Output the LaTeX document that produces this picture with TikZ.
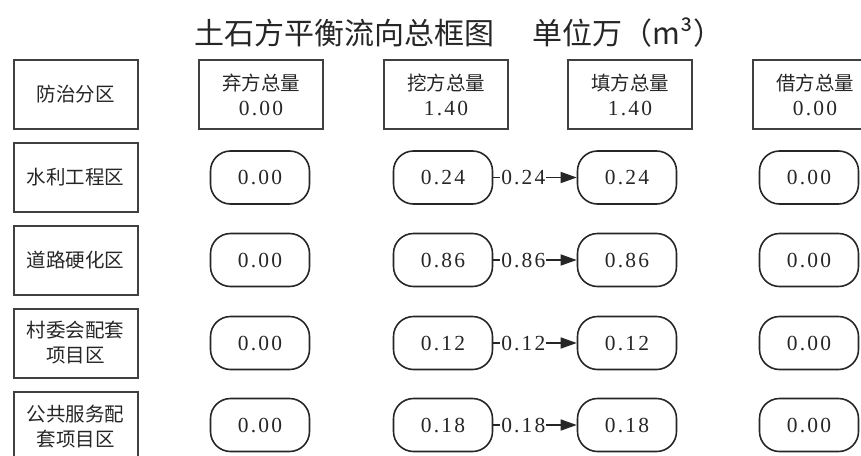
\documentclass[tikz,border=0pt]{standalone}
\usepackage{fontspec}
\newfontfamily\cjk{Noto Sans CJK SC}
\newfontfamily\num{Liberation Serif}[LetterSpace=10]
\usetikzlibrary{arrows.meta}

\begin{document}
\begin{tikzpicture}[x=1pt,y=-1pt,
    every node/.style={text=black!85, font=\cjk\fontsize{19.5}{25}\selectfont},
    zone/.style={draw=black!75, line width=2pt, minimum width=124pt, minimum height=69pt, align=center, inner sep=0pt},
    val/.style={draw=black!85, line width=1.6pt, rounded corners=20pt, minimum width=99pt, minimum height=53pt, inner sep=0pt, font=\num\fontsize{21.5}{25}\selectfont},
    amount/.style={fill=white, pos=0.36, inner sep=1pt, font=\num\fontsize{21.5}{25}\selectfont},
    flow/.style={-{Triangle[length=16pt,width=11pt]}, line width=1.6pt, draw=black!85}]
    \useasboundingbox (0,0) rectangle (861,455);

    \node[font=\cjk\fontsize{30}{36}\selectfont] (title) at (344,33) {土石方平衡流向总框图};
    \node[font=\cjk\fontsize{30}{36}\selectfont] (unit) at (628,33) {单位万（m³）};

    \node[zone] (H0) at (75.5,94.5) {防治分区};
    \node[zone] (H1) at (261,94.5) {弃方总量\\{\num\fontsize{21.5}{25}\selectfont 0.00}};
    \node[zone] (H2) at (446,94.5) {挖方总量\\{\num\fontsize{21.5}{25}\selectfont 1.40}};
    \node[zone] (H3) at (630,94.5) {填方总量\\{\num\fontsize{21.5}{25}\selectfont 1.40}};
    \node[zone] (H4) at (815,94.5) {借方总量\\{\num\fontsize{21.5}{25}\selectfont 0.00}};

    \node[zone] (Z1) at (75.5,177.5) {水利工程区};
    \node[val] (Q1) at (260,177.5) {0.00};
    \node[val] (W1) at (443,177.5) {0.24};
    \node[val] (T1) at (627,177.5) {0.24};
    \node[val] (J1) at (809,177.5) {0.00};

    \node[zone] (Z2) at (75.5,260) {道路硬化区};
    \node[val] (Q2) at (260,260) {0.00};
    \node[val] (W2) at (443,260) {0.86};
    \node[val] (T2) at (627,260) {0.86};
    \node[val] (J2) at (809,260) {0.00};

    \node[zone] (Z3) at (75.5,343) {村委会配套\\项目区};
    \node[val] (Q3) at (260,343) {0.00};
    \node[val] (W3) at (443,343) {0.12};
    \node[val] (T3) at (627,343) {0.12};
    \node[val] (J3) at (809,343) {0.00};

    \node[zone] (Z4) at (75.5,426.5) {公共服务配\\套项目区};
    \node[val] (Q4) at (260,425) {0.00};
    \node[val] (W4) at (443,425) {0.18};
    \node[val] (T4) at (627,425) {0.18};
    \node[val] (J4) at (809,425) {0.00};

    \draw[flow] (W1) -- node[amount] {0.24} (T1);
    \draw[flow] (W2) -- node[amount] {0.86} (T2);
    \draw[flow] (W3) -- node[amount] {0.12} (T3);
    \draw[flow] (W4) -- node[amount] {0.18} (T4);

\end{tikzpicture}
\end{document}
